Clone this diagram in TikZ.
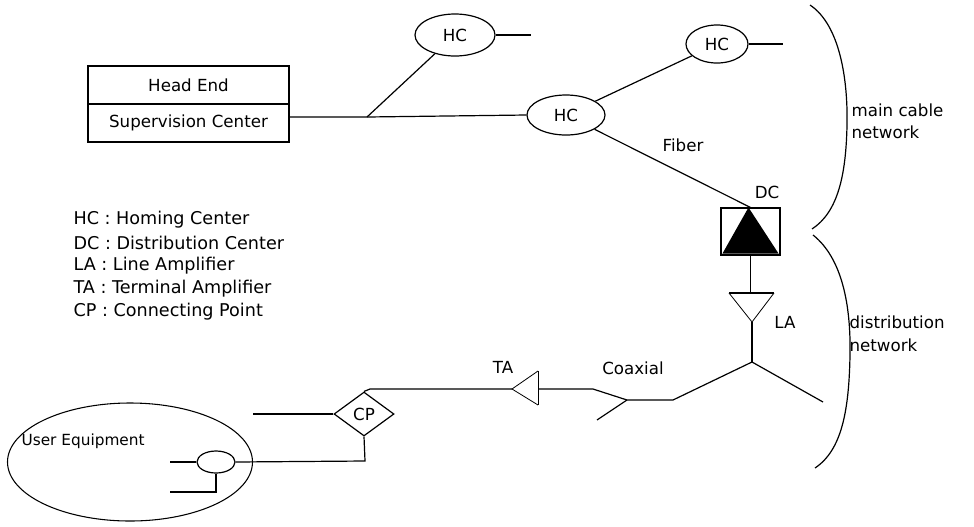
\documentclass[tikz,border=0pt]{standalone}
\usepackage{fontspec}
\setmainfont{DejaVu Sans}
\usetikzlibrary{shapes.geometric,calc}
\begin{document}
\begin{tikzpicture}[x=0.75pt,y=-0.75pt,line width=0.9pt,
  font=\fontsize{12.5}{14}\selectfont,
  hcnode/.style={ellipse,draw,inner sep=0pt},
  boxpart/.style={rectangle,draw,line width=0.8pt,inner sep=0pt,minimum width=150.75pt,minimum height=28.5pt},
  lbl/.style={inner sep=0pt},
  leg/.style={inner sep=0pt,anchor=west},
  legtext/.style={inner sep=0pt,anchor=west,font=\fontsize{13.2}{15}\selectfont},
  thickbar/.style={line width=1.8pt}]
\useasboundingbox (0,0) rectangle (974,526);

% Head end / supervision box
\node[boxpart] (he) at (188.5,85) {Head End};
\node[boxpart] (sc) at (188.5,123) {Supervision Center};

% Homing centers
\node[hcnode,minimum width=60pt,minimum height=31.5pt] (hc1) at (455,35) {HC};
\node[hcnode,minimum width=58.5pt,minimum height=30pt] (hc2) at (566,115) {HC};
\node[hcnode,minimum width=46.5pt,minimum height=28.5pt] (hc3) at (717,44) {HC};

\coordinate (j1) at (367,117);
\coordinate (hc1e) at (531,33);
\coordinate (hc3e) at (783,42);

\draw (sc.east |- j1) -- (j1) -- (hc2.west);
\draw (j1) -- (hc1);
\draw (hc1.east) -- (hc1.east -| hc1e);
\draw (hc2) -- (hc3);
\draw (hc3.east) -- (hc3.east -| hc3e);

% Distribution center
\node[rectangle,draw,line width=0.8pt,inner sep=0pt,minimum width=44.25pt,minimum height=35.25pt] (dc) at (750.5,231.5) {};
\fill ($(dc.north)+(-2,0)$) -- ($(dc.south west)+(2,-2)$) -- ($(dc.south east)+(-2,-2)$) -- cycle;
\draw (hc2) -- (dc.north);

\node[lbl] (fiber) at (683,145) {Fiber};
\node[lbl] (dclbl) at (767,192) {DC};

% Line amplifier
\coordinate (laL) at (729,293);
\coordinate (laR) at (774,293);
\coordinate (la) at (dc.south |- laL);
\coordinate (laA) at (752,322);
\draw (dc.south) -- (la);
\draw[thickbar] (laL) -- (laR);
\draw[line width=0.6pt] (laL) -- (laA) -- (laR);
\node[lbl] (lalbl) at (785,322) {LA};

% coaxial network
\coordinate (j2) at (752,362);
\coordinate (br) at (823,402);
\coordinate (c1) at (673,400);
\coordinate (j3) at (627,400);
\coordinate (c2) at (593,389);
\coordinate (c3) at (597,420);
\draw (laA) -- (j2);
\draw (j2) -- (br);
\draw (j2) -- (c1) -- (j3) -- (c2) -- (538,389) coordinate (taR);
\draw (j3) -- (c3);
\node[lbl] (coax) at (633,368) {Coaxial};

% Terminal amplifier
\coordinate (taA) at (512,389);
\coordinate (taT) at (538,371);
\coordinate (taB) at (538,405);
\draw[line width=0.6pt] (taT) -- (taA) -- (taB);
\draw[line width=0.6pt] (taT) -- (taB);
\node[lbl] (talbl) at (503,367) {TA};

% Connecting point
\node[diamond,draw,inner sep=0pt,minimum width=45pt,minimum height=33pt] (cp) at (364,414) {CP};
\coordinate (c4) at (370,389);
\coordinate (cpw) at (253,414);
\coordinate (c5) at (365,461);
\draw (taA) -- (c4) -- (cp.north);
\draw (cp.west) -- (cpw);

% User equipment
\node[ellipse,draw,line width=0.8pt,inner sep=0pt,minimum width=183.75pt,minimum height=88.5pt] (ue) at (130,462) {};
\node[leg,font=\fontsize{11.5}{13}\selectfont] (uelbl) at (21,441) {User Equipment};
\node[ellipse,draw,inner sep=0pt,minimum width=28.5pt,minimum height=16.5pt] (port) at (216,462) {};
\coordinate (pw) at (170,462);
\coordinate (c6) at (216,492);
\coordinate (pw2) at (170,492);
\draw (cp.south) -- (c5) -- (port.east);
\draw (port.west) -- (pw);
\draw (port.south) -- (c6) -- (pw2);

% braces
\draw (810,5) .. controls (840,25) and (848,80) .. (847,125) .. controls (846,175) and (838,212) .. (812,229);
\draw (813,235) .. controls (842,258) and (851,305) .. (850,355) .. controls (849,410) and (842,450) .. (815,468);
\node[leg] (mc1) at (851,110) {main cable};
\node[leg] (mc2) at (851,132) {network};
\node[leg] (dn1) at (849,322) {distribution};
\node[leg] (dn2) at (849,345) {network};

% legend
\node[legtext] (l1) at (73,220) {HC : Homing Center};
\node[legtext] (l2) at (73,243) {DC : Distribution Center};
\node[legtext] (l3) at (73,266) {LA : Line Amplifier};
\node[legtext] (l4) at (73,289) {TA : Terminal Amplifier};
\node[legtext] (l5) at (73,312) {CP : Connecting Point};
\end{tikzpicture}
\end{document}
